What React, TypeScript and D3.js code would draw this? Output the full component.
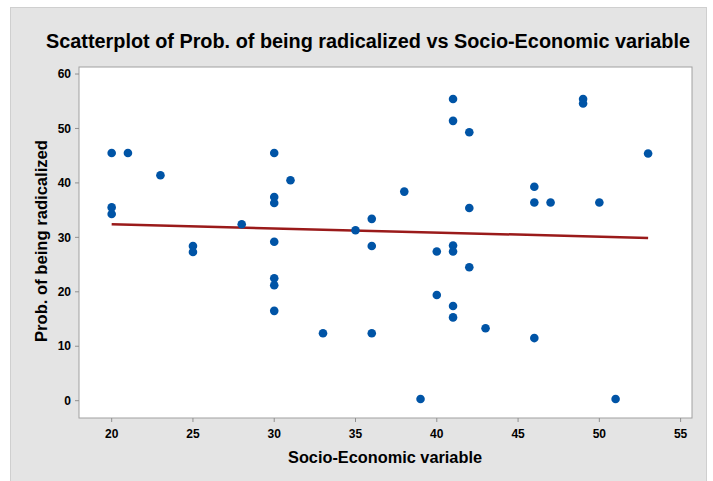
import React from "react";
import * as d3 from "d3";

// socio-economic value (x) and prob. of being radicalized (y)
const socioX = [
  20, 20, 20, 21, 23, 25, 25, 28,
  30, 30, 30, 30, 30, 30, 30, 31, 33, 35,
  36, 36, 36, 38, 39, 40, 40,
  41, 41, 41, 41, 41, 41, 42, 42, 42, 43,
  46, 46, 46, 47, 49, 49, 50, 51, 53,
];
const probY = [
  45.5, 35.5, 34.3, 45.5, 41.4, 28.4, 27.3, 32.4,
  45.5, 37.4, 36.3, 29.2, 22.5, 21.2, 16.5, 40.5, 12.4, 31.3,
  33.4, 28.4, 12.4, 38.4, 0.3, 27.4, 19.4,
  55.4, 51.4, 28.5, 27.4, 17.4, 15.3, 49.3, 35.4, 24.5, 13.3,
  39.3, 36.4, 11.5, 36.4, 55.4, 54.6, 36.4, 0.3, 45.4,
];

// fitted regression line end points
const fitX = [20, 53];
const fitY = [32.4, 29.9];

const xTicks = [20, 25, 30, 35, 40, 45, 50, 55];
const yTicks = [0, 10, 20, 30, 40, 50, 60];

const W = 713, H = 481;
const plot = { left: 79, right: 692, top: 67, bottom: 418 };
const font = "'Liberation Sans', Arial, sans-serif";

export default function App() {
  const x = d3.scaleLinear().domain([17.99, 55.7]).range([plot.left, plot.right]);
  const y = d3.scaleLinear().domain([-3.18, 61.29]).range([plot.bottom, plot.top]);

  const points = socioX.map((v, i) => ({ x: v, y: probY[i] }));
  const fit = fitX.map((v, i) => ({ x: v, y: fitY[i] }));
  const line = d3.line<{ x: number; y: number }>().x(d => x(d.x)).y(d => y(d.y));

  return (
    <svg width={W} height={H} style={{ position: "absolute", left: 0, top: 0 }} fontFamily={font}>
      <rect x={0} y={0} width={W} height={H} fill="#fff" />
      <rect x={10.5} y={7.5} width={696} height={480} fill="#e4e4e4" stroke="#cfcfcf" />

      <text x={368} y={48} textAnchor="middle" fontSize={20} fontWeight="bold"
        textLength={644} lengthAdjust="spacingAndGlyphs">
        Scatterplot of Prob. of being radicalized vs Socio-Economic variable
      </text>

      <rect x={plot.left} y={plot.top} width={plot.right - plot.left} height={plot.bottom - plot.top}
        fill="#fff" stroke="#a0a0a0" strokeWidth={1} />

      {/* x axis */}
      {xTicks.map(t => (
        <g key={"x" + t} transform={`translate(${x(t)},0)`}>
          <line y1={plot.bottom} y2={plot.bottom + 4} stroke="#909090" />
          <text y={437.5} textAnchor="middle" fontSize={12} fontWeight="bold">{t}</text>
        </g>
      ))}
      <text x={385} y={463} textAnchor="middle" fontSize={16} fontWeight="bold"
        textLength={194} lengthAdjust="spacingAndGlyphs">Socio-Economic variable</text>

      {/* y axis */}
      {yTicks.map(t => (
        <g key={"y" + t} transform={`translate(0,${y(t)})`}>
          <line x1={plot.left - 4} x2={plot.left} stroke="#909090" />
          <text x={71} dy="0.35em" textAnchor="end" fontSize={12} fontWeight="bold">{t}</text>
        </g>
      ))}
      <text transform="translate(47,241) rotate(-90)" textAnchor="middle" fontSize={16} fontWeight="bold"
        textLength={202} lengthAdjust="spacingAndGlyphs">Prob. of being radicalized</text>

      {/* regression line */}
      <path d={line(fit) ?? ""} fill="none" stroke="#9a1a1a" strokeWidth={2.5} />

      {/* points */}
      {points.map((p, i) => (
        <circle key={i} cx={x(p.x)} cy={y(p.y)} r={4.3} fill="#0054a6" />
      ))}
    </svg>
  );
}
